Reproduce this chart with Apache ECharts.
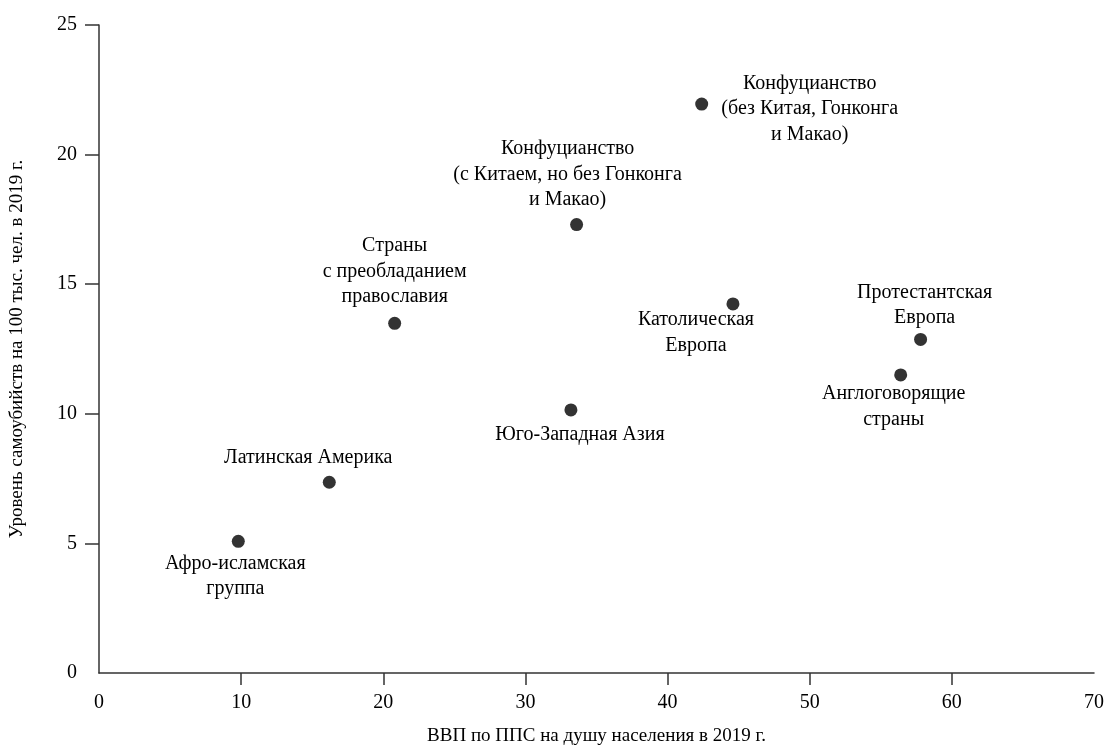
<!DOCTYPE html>
<html>
<head>
<meta charset="utf-8">
<script src="https://cdn.jsdelivr.net/npm/echarts@6/dist/echarts.min.js"></script>
<style>
  html, body { margin: 0; padding: 0; background: #fff; }
  #chart { width: 1109px; height: 752px; }
</style>
</head>
<body>
<div id="chart"></div>
<script>
// группы стран
const groups = [
  'Афро-исламская\nгруппа',
  'Латинская Америка',
  'Страны\nс преобладанием\nправославия',
  'Юго-Западная Азия',
  'Конфуцианство\n(с Китаем, но без Гонконга\nи Макао)',
  'Конфуцианство\n(без Китая, Гонконга\nи Макао)',
  'Католическая\nЕвропа',
  'Протестантская\nЕвропа',
  'Англоговорящие\nстраны'
];
// ВВП по ППС на душу, тыс.
const gdp = [9.8, 16.2, 20.8, 33.2, 33.6, 42.4, 44.6, 57.8, 56.4];
// самоубийства на 100 тыс.
const suicide = [5.08, 7.36, 13.49, 10.15, 17.3, 21.95, 14.24, 12.87, 11.5];
// где стоит подпись относительно точки
const labelOffsets = [[-3, 35], [-21, -24], [0, -52], [9, 25], [-9, -50], [108, 5], [-37, 29], [4, -34], [-7, 32]];

const xTicks = [0, 10, 20, 30, 40, 50, 60, 70];
const yTicks = [0, 5, 10, 15, 20, 25];

const font = '"Liberation Serif", "Times New Roman", serif';
const chart = echarts.init(document.getElementById('chart'));

const option = {
  animation: false,
  textStyle: { fontFamily: font },
  grid: { left: 98, right: 15, top: 25, bottom: 79 },
  xAxis: {
    type: 'value',
    min: 0,
    max: 70,
    interval: 10,
    name: 'ВВП по ППС на душу населения в 2019 г.',
    nameLocation: 'middle',
    nameGap: 54,
    nameTextStyle: { fontFamily: font, fontSize: 19, color: '#000' },
    axisLine: { show: true, lineStyle: { color: '#333', width: 1.5 } },
    axisTick: { show: true, length: 12, customValues: [10, 20, 30, 40, 50, 60], lineStyle: { color: '#333', width: 1.5 } },
    axisLabel: { customValues: xTicks, margin: 20, fontFamily: font, fontSize: 20, color: '#000' },
    splitLine: { show: false }
  },
  yAxis: {
    type: 'value',
    min: 0,
    max: 25,
    interval: 5,
    name: 'Уровень самоубийств на 100 тыс. чел. в 2019 г.',
    nameLocation: 'middle',
    nameGap: 72,
    nameTextStyle: { fontFamily: font, fontSize: 19, color: '#000' },
    axisLine: { show: true, lineStyle: { color: '#333', width: 1.5 } },
    axisTick: { show: true, length: 14, customValues: [5, 10, 15, 20, 25], lineStyle: { color: '#333', width: 1.5 } },
    axisLabel: { customValues: yTicks, margin: 22, fontFamily: font, fontSize: 20, color: '#000' },
    splitLine: { show: false }
  },
  series: [{
    type: 'scatter',
    symbol: 'circle',
    symbolSize: 13,
    itemStyle: { color: '#333', opacity: 1 },
    data: gdp.map((x, i) => ({
      value: [x, suicide[i]],
      name: groups[i],
      label: {
        show: true,
        formatter: groups[i],
        position: 'inside',
        offset: labelOffsets[i],
        align: 'center',
        verticalAlign: 'middle',
        fontFamily: font,
        fontSize: 20,
        lineHeight: 25.5,
        color: '#000'
      }
    }))
  }]
};

option && chart.setOption(option);
</script>
</body>
</html>
